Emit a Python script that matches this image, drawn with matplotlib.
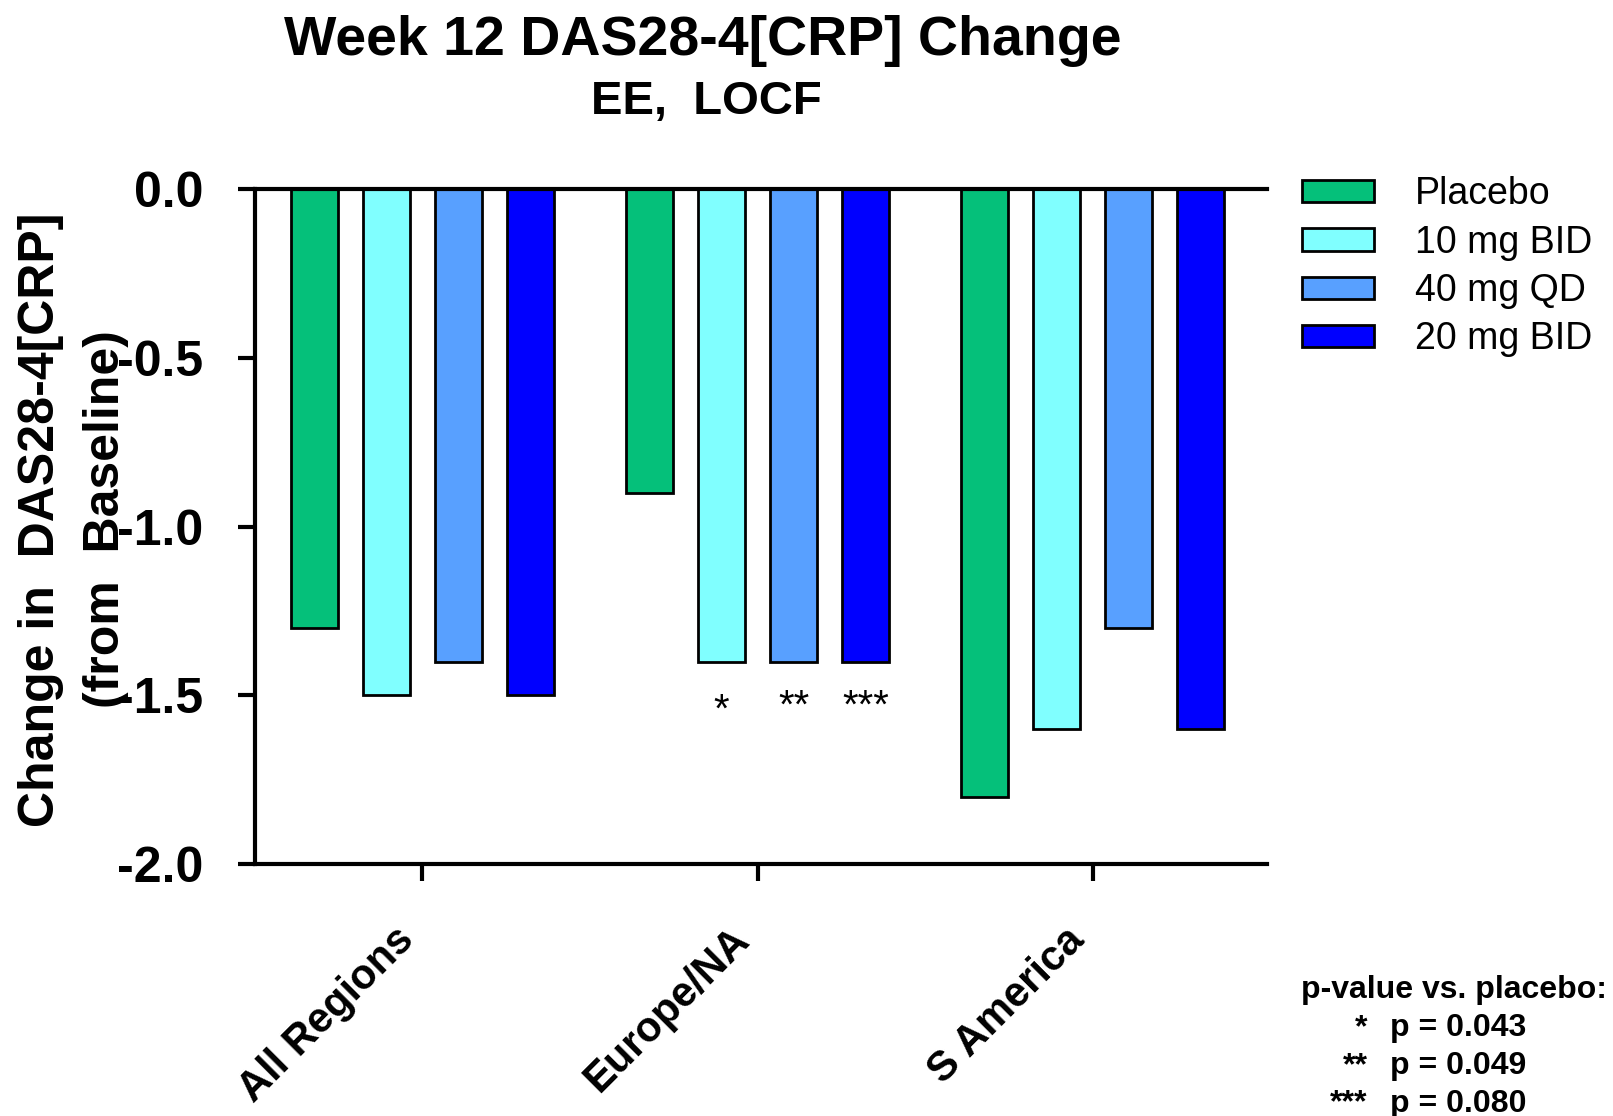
import matplotlib
matplotlib.use("Agg")
import matplotlib.pyplot as plt
import numpy as np
from matplotlib.patches import Patch

plt.rcParams['font.family'] = ['Liberation Sans', 'DejaVu Sans']

regions = ["All Regions", "Europe/NA", "S America"]
treatments = ["Placebo", "10 mg BID", "40 mg QD", "20 mg BID"]
values = {
    "Placebo":   [-1.3, -0.9, -1.8],
    "10 mg BID": [-1.5, -1.4, -1.6],
    "40 mg QD":  [-1.4, -1.4, -1.3],
    "20 mg BID": [-1.5, -1.4, -1.6],
}
colors = ["#05C07A", "#80FFFF", "#58A0FF", "#0000FF"]
yticks = [0.0, -0.5, -1.0, -1.5, -2.0]
sig_labels = {("Europe/NA", "10 mg BID"): "*", ("Europe/NA", "40 mg QD"): "**", ("Europe/NA", "20 mg BID"): "***"}
pvals = [("*", "0.043"), ("**", "0.049"), ("***", "0.080")]

fig = plt.figure(figsize=(16.13, 11.16), dpi=100)
ax = fig.add_axes([0.158, 0.2258, 0.6275, 0.6048])

x = np.arange(len(regions))
step = 0.2147
width = 0.141
for i, t in enumerate(treatments):
    ax.bar(x + (i - 1.5) * step, values[t], width=width, color=colors[i],
           edgecolor="black", linewidth=2.0, zorder=2)

for (reg, t), lab in sig_labels.items():
    gi = regions.index(reg)
    ti = treatments.index(t)
    yy = -1.545 if lab == "*" else -1.535
    ax.text(gi + (ti - 1.5) * step, yy, lab, ha="center", va="center", fontsize=29)

ax.set_xlim(-0.5, 2.52)
ax.set_ylim(-2.0, 0.0)
ax.set_yticks(yticks)
ax.set_yticklabels([f"{v:.1f}" if v != 0 else "0.0" for v in yticks], fontsize=36, fontweight="bold")
ax.set_xticks(x)
ax.set_xticklabels(regions, fontsize=30, fontweight="bold", rotation=45, ha="right", va="top")

for s in ["left", "top", "bottom"]:
    ax.spines[s].set_linewidth(3.0)
ax.spines["right"].set_visible(False)
ax.tick_params(axis="y", length=12, width=3.0, pad=25)
ax.tick_params(axis="x", length=12, width=3.0, pad=28)

fig.text(0.0255, 0.5346, "Change in  DAS28-4[CRP]", rotation=90, ha="center", va="center",
         fontsize=36, fontweight="bold")
fig.text(0.0657, 0.5346, "(from  Baseline)", rotation=90, ha="center", va="center",
         fontsize=36, fontweight="bold")

fig.text(0.4356, 0.963, "Week 12 DAS28-4[CRP] Change", ha="center", va="center",
         fontsize=40, fontweight="bold")
fig.text(0.4378, 0.9085, "EE,  LOCF", ha="center", va="center",
         fontsize=34, fontweight="bold")

handles = [Patch(facecolor=c, edgecolor="black", linewidth=2.0) for c in colors]
leg = fig.legend(handles, treatments, loc="upper left", bbox_to_anchor=(0.807, 0.842),
                 frameon=False, fontsize=27, handlelength=1.92, handleheight=0.55,
                 handletextpad=1.1, labelspacing=0.33, borderpad=0, borderaxespad=0)

fig.text(0.996, 0.113, "p-value vs. placebo:", ha="right", va="center", fontsize=23, fontweight="bold")
for k, (st, pv) in enumerate(pvals):
    yy = 0.079 - k * 0.034
    fig.text(0.848, yy, st, ha="right", va="center", fontsize=23, fontweight="bold")
    fig.text(0.862, yy, f"p = {pv}", ha="left", va="center", fontsize=23, fontweight="bold")

fig.savefig("out.png", dpi=100)
